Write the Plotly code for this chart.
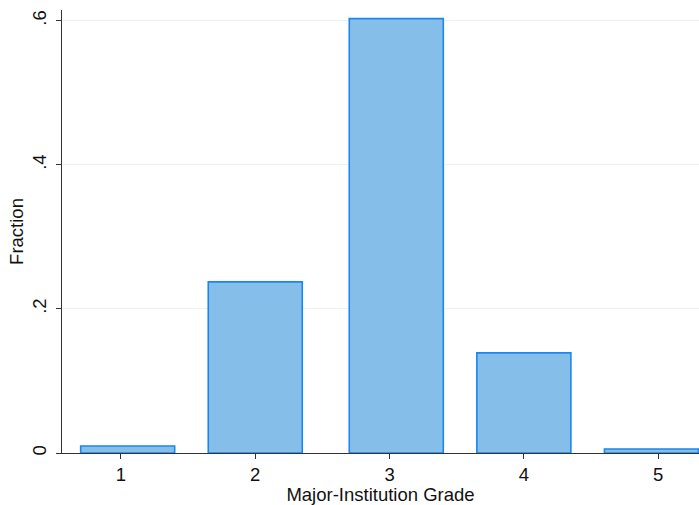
import plotly.graph_objects as go

grades = [1.05, 2.0, 3.05, 4.0, 4.95]
fractions = [0.0097, 0.2375, 0.603, 0.139, 0.0056]
x_ticks = [1, 2, 3, 4, 5]
x_tick_labels = ["1", "2", "3", "4", "5"]
y_ticks = [0, 0.2, 0.4, 0.6]
y_tick_labels = ["0", ".2", ".4", ".6"]

fig = go.Figure()
fig.add_trace(go.Bar(
    x=grades, y=fractions, width=0.7,
    marker=dict(color="#85BFE9", line=dict(color="#1A86F0", width=1.6)),
))

font = "Liberation Sans, Arial, sans-serif"
fig.update_layout(
    width=699, height=505,
    margin=dict(l=62, r=0, t=10, b=52, autoexpand=False),
    plot_bgcolor="white", paper_bgcolor="white",
    showlegend=False,
    font=dict(family=font, size=18.5, color="#111111"),
    xaxis=dict(
        range=[0.561, 5.304],
        tickvals=x_ticks, ticktext=x_tick_labels,
        ticks="outside", ticklen=5, tickcolor="#333333",
        showline=True, linecolor="#333333", linewidth=1.2,
        showgrid=False, zeroline=False, automargin=False,
        title=dict(text="Major-Institution Grade", standoff=1, font=dict(size=18.5)),
    ),
    yaxis=dict(
        range=[0, 0.615],
        tickvals=y_ticks, ticktext=y_tick_labels, tickangle=-90,
        ticks="outside", ticklen=5, tickcolor="#333333", ticklabelstandoff=3,
        showline=True, linecolor="#333333", linewidth=1.2,
        showgrid=True, gridcolor="#EAF2F3", gridwidth=1,
        zeroline=False, automargin=False,
        title=dict(text="Fraction", standoff=0, font=dict(size=18.5)),
    ),
)

fig.write_html("out.html", config={"displayModeBar": False},
               post_script="document.body.style.margin='0';")
